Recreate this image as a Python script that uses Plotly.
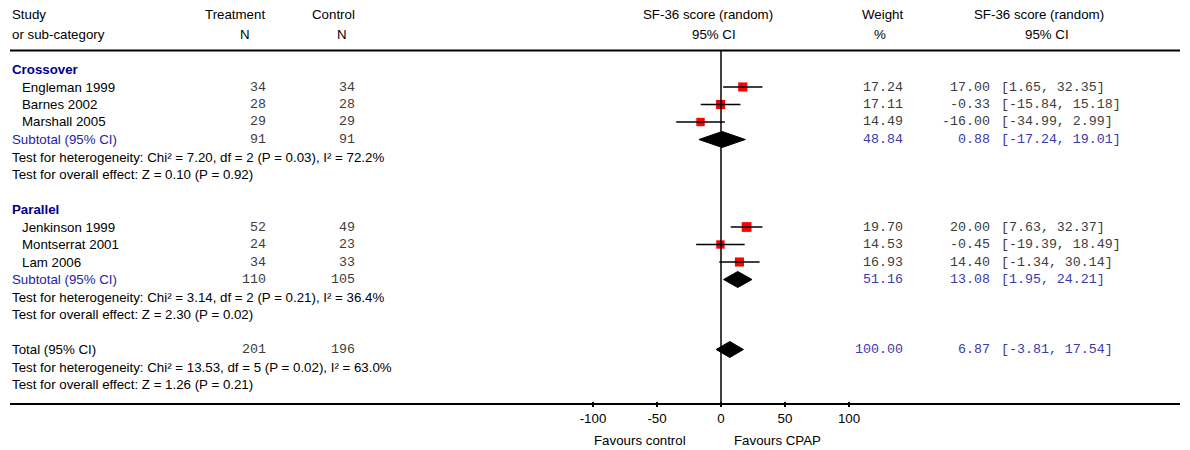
import plotly.graph_objects as go

# ---------------- data ----------------
groups = ["Crossover", "Parallel"]
studies = [
    ["Engleman 1999", "Barnes 2002", "Marshall 2005"],
    ["Jenkinson 1999", "Montserrat 2001", "Lam 2006"],
]
treat_n = [[34, 28, 29], [52, 24, 34]]
ctrl_n = [[34, 28, 29], [49, 23, 33]]
weights = [[17.24, 17.11, 14.49], [19.70, 14.53, 16.93]]
est = [[17.00, -0.33, -16.00], [20.00, -0.45, 14.40]]
lo = [[1.65, -15.84, -34.99], [7.63, -19.39, -1.34]]
hi = [[32.35, 15.18, 2.99], [32.37, 18.49, 30.14]]

sub_treat = [91, 110]
sub_ctrl = [91, 105]
sub_weight = [48.84, 51.16]
sub_est = [0.88, 13.08]
sub_lo = [-17.24, 1.95]
sub_hi = [19.01, 24.21]
sub_het = [
    "Test for heterogeneity: Chi² = 7.20, df = 2 (P = 0.03), I² = 72.2%",
    "Test for heterogeneity: Chi² = 3.14, df = 2 (P = 0.21), I² = 36.4%",
]
sub_eff = [
    "Test for overall effect: Z = 0.10 (P = 0.92)",
    "Test for overall effect: Z = 2.30 (P = 0.02)",
]

tot_treat = 201
tot_ctrl = 196
tot_weight = 100.00
tot_est = 6.87
tot_lo = -3.81
tot_hi = 17.54
tot_het = "Test for heterogeneity: Chi² = 13.53, df = 5 (P = 0.02), I² = 63.0%"
tot_eff = "Test for overall effect: Z = 1.26 (P = 0.21)"

tick_vals = [-100, -50, 0, 50, 100]
tick_text = ["-100", "-50", "0", "50", "100"]

# ---------------- layout helpers ----------------
W, H = 1190, 450
R0, STEP = 69.5, 17.5          # pixel y of row 0 and row spacing
X0PX, PXU = 721.0, 1.28        # pixel x of effect 0, pixels per unit

def row_y(r):
    return R0 + r * STEP

def py(px):  # pixel y -> paper y
    return 1 - px / H

def pxx(px):  # pixel x -> paper x
    return px / W

SANS = "Liberation Sans, Arial, sans-serif"
MONO = "Liberation Mono, Courier New, monospace"
BLACK = "#000000"
GRAY = "#3c3c3c"
NAVY = "#00008b"
BLUE = "#2323a3"
NUMBLUE = "#3a3aa8"
FS = 13.3

fig = go.Figure()
ann = []

def text(x, r_or_px, s, anchor="left", font=SANS, color=BLACK, size=FS, bold=False, is_px=False):
    yv = r_or_px if is_px else row_y(r_or_px)
    if bold:
        s = "<b>" + s + "</b>"
    ann.append(dict(x=pxx(x), y=py(yv), xref="paper", yref="paper", text=s,
                    showarrow=False, xanchor=anchor, yanchor="middle",
                    font=dict(family=font, size=size, color=color)))

# headers
text(10, 15, "Study", is_px=True)
text(10, 34, "or sub-category", is_px=True)
text(267, 15, "Treatment", anchor="right", is_px=True)
text(245, 34, "N", anchor="center", is_px=True)
text(357, 15, "Control", anchor="right", is_px=True)
text(342, 34, "N", anchor="center", is_px=True)
text(708, 15, "SF-36 score (random)", anchor="center", is_px=True)
text(714, 34, "95% CI", anchor="center", is_px=True)
text(882, 15, "Weight", anchor="center", is_px=True)
text(880, 34, "%", anchor="center", is_px=True)
text(1039, 15, "SF-36 score (random)", anchor="center", is_px=True)
text(1047, 34, "95% CI", anchor="center", is_px=True)

# rows
study_rows = []
sub_rows = []
row = 0
for g in range(len(groups)):
    text(10, row, groups[g], color=NAVY, bold=True)
    row += 1
    rows_g = []
    for i in range(len(studies[g])):
        text(20, row, studies[g][i])
        text(268, row, str(treat_n[g][i]), anchor="right", font=MONO, color=GRAY)
        text(357, row, str(ctrl_n[g][i]), anchor="right", font=MONO, color=GRAY)
        text(905, row, f"{weights[g][i]:.2f}", anchor="right", font=MONO, color=GRAY)
        text(992, row, f"{est[g][i]:.2f}", anchor="right", font=MONO, color=GRAY)
        text(999, row, f"[{lo[g][i]:.2f}, {hi[g][i]:.2f}]", font=MONO, color=GRAY)
        rows_g.append(row)
        row += 1
    study_rows.append(rows_g)
    text(10, row, "Subtotal (95% CI)", color=BLUE)
    text(268, row, str(sub_treat[g]), anchor="right", font=MONO, color=GRAY)
    text(357, row, str(sub_ctrl[g]), anchor="right", font=MONO, color=GRAY)
    text(905, row, f"{sub_weight[g]:.2f}", anchor="right", font=MONO, color=NUMBLUE)
    text(992, row, f"{sub_est[g]:.2f}", anchor="right", font=MONO, color=NUMBLUE)
    text(999, row, f"[{sub_lo[g]:.2f}, {sub_hi[g]:.2f}]", font=MONO, color=NUMBLUE)
    sub_rows.append(row)
    row += 1
    text(10, row, sub_het[g])
    row += 1
    text(10, row, sub_eff[g])
    row += 2

tot_row = row
text(10, tot_row, "Total (95% CI)")
text(268, tot_row, str(tot_treat), anchor="right", font=MONO, color=GRAY)
text(357, tot_row, str(tot_ctrl), anchor="right", font=MONO, color=GRAY)
text(905, tot_row, f"{tot_weight:.2f}", anchor="right", font=MONO, color=NUMBLUE)
text(992, tot_row, f"{tot_est:.2f}", anchor="right", font=MONO, color=NUMBLUE)
text(999, tot_row, f"[{tot_lo:.2f}, {tot_hi:.2f}]", font=MONO, color=NUMBLUE)
text(10, tot_row + 1, tot_het)
text(10, tot_row + 2, tot_eff)

text(640, 440, "Favours control", anchor="center", is_px=True)
text(777, 440, "Favours CPAP", anchor="center", is_px=True)

# y axis in row units mapped so rows land on pixel rows
y_top = -R0 / STEP
y_bot = (H - R0) / STEP
x_left = (0 - X0PX) / PXU
x_right = (W - X0PX) / PXU

# study squares
mx, my, ms = [], [], []
for g in range(len(groups)):
    for i, r in enumerate(study_rows[g]):
        mx.append(est[g][i])
        my.append(r)
        ms.append(2.2 * weights[g][i] ** 0.5)
fig.add_trace(go.Scatter(x=mx, y=my, mode="markers",
                         marker=dict(symbol="square", size=ms, color="#ff0000",
                                     opacity=1, line=dict(width=0)),
                         hoverinfo="skip", showlegend=False))

# CI lines
lx, ly = [], []
for g in range(len(groups)):
    for i, r in enumerate(study_rows[g]):
        lx += [lo[g][i], hi[g][i], None]
        ly += [r, r, None]
fig.add_trace(go.Scatter(x=lx, y=ly, mode="lines", line=dict(color="black", width=1.5),
                         hoverinfo="skip", showlegend=False))

# diamonds
HD = 8.0 / STEP
def diamond(c, l, h, r):
    fig.add_trace(go.Scatter(x=[l, c, h, c, l], y=[r, r - HD, r, r + HD, r],
                             mode="lines", fill="toself", fillcolor="black",
                             line=dict(color="black", width=1),
                             hoverinfo="skip", showlegend=False))

for g in range(len(groups)):
    diamond(sub_est[g], sub_lo[g], sub_hi[g], sub_rows[g])
diamond(tot_est, tot_lo, tot_hi, tot_row)

shapes = [
    dict(type="line", xref="paper", yref="paper", x0=pxx(10), x1=pxx(1180),
         y0=py(50.5), y1=py(50.5), line=dict(color="black", width=2)),
    dict(type="line", xref="paper", yref="paper", x0=pxx(10), x1=pxx(1180),
         y0=py(404), y1=py(404), line=dict(color="black", width=2)),
    dict(type="line", xref="x", yref="paper", x0=0, x1=0,
         y0=py(50.5), y1=py(404), line=dict(color="black", width=1.5)),
]

fig.update_layout(
    width=W, height=H,
    margin=dict(l=0, r=0, t=0, b=0),
    paper_bgcolor="white", plot_bgcolor="white",
    showlegend=False,
    annotations=ann,
    shapes=shapes,
    xaxis=dict(range=[x_left, x_right], domain=[0, 1], anchor="free",
               position=py(401), showgrid=False, zeroline=False, showline=False,
               tickvals=tick_vals, ticktext=tick_text, ticks="outside",
               ticklen=5, tickwidth=1.5, tickcolor="black",
               tickfont=dict(family=SANS, size=FS, color="black"),
               fixedrange=True),
    yaxis=dict(range=[y_bot, y_top], domain=[0, 1], visible=False,
               showgrid=False, zeroline=False, fixedrange=True),
)

fig.write_html("out.html")
